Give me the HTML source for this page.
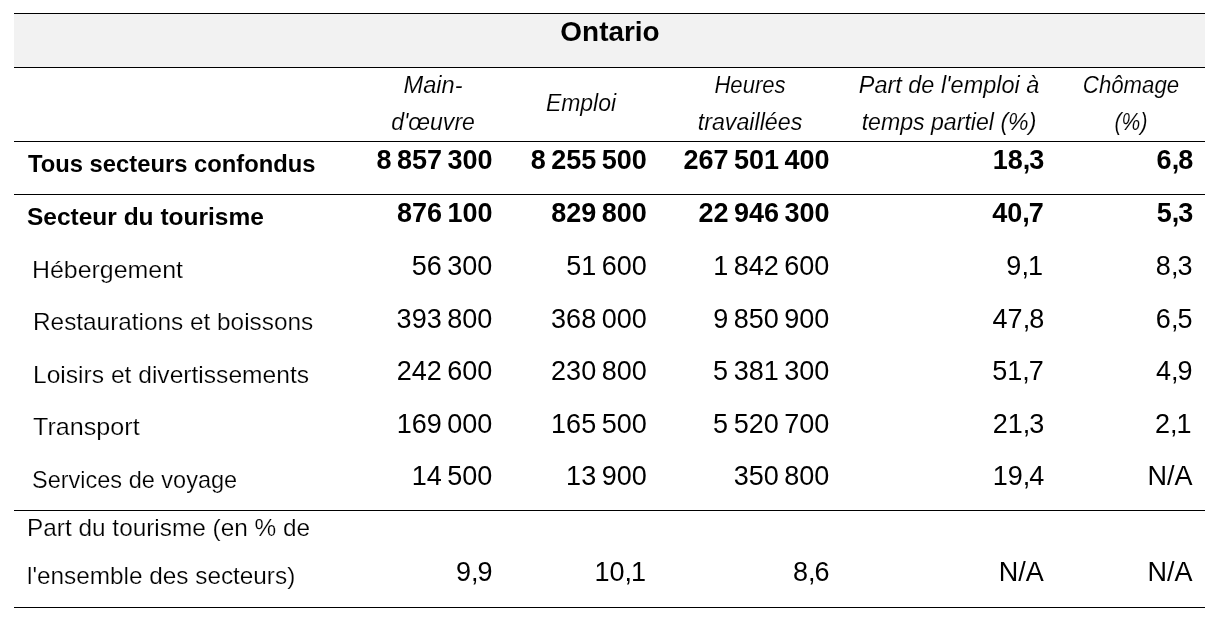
<!DOCTYPE html><html lang="fr"><head><meta charset="utf-8"><title>Ontario</title><style>
html,body{margin:0;padding:0;background:#fff;}
body{width:1217px;height:622px;position:relative;overflow:hidden;will-change:transform;font-family:"Liberation Sans",sans-serif;color:#000;}
.hd{position:absolute;left:14px;top:13px;width:1191px;height:55px;background:#f2f2f2;}
.ln{position:absolute;left:14px;width:1191px;height:1px;background:#000;}
.x{position:absolute;white-space:nowrap;line-height:40px;height:40px;font-size:24px;}
.l{transform-origin:0 50%;}
.rt{transform-origin:100% 50%;}
.l{-webkit-text-stroke:0.2px #fff;}
.i{-webkit-text-stroke:0.12px #fff;}
.b,.nb{font-weight:bold;-webkit-text-stroke:0;}
.n,.nb{font-size:27px;word-spacing:-2px;}
.c{letter-spacing:-1px;}
.i{font-style:italic;font-size:24.3px;}
.t{font-weight:bold;font-size:27.6px;}
</style></head><body>
<div class="hd"></div>
<div class="ln" style="top:13px"></div>
<div class="ln" style="top:67px"></div>
<div class="ln" style="top:141px"></div>
<div class="ln" style="top:194px"></div>
<div class="ln" style="top:510px"></div>
<div class="ln" style="top:607px"></div>
<div class="x t" style="top:12px;left:610.00px;transform:translateX(-50%) scaleX(1.0121)">Ontario</div>
<div class="x i" style="top:65px;left:432.62px;transform:translateX(-50%) scaleX(0.9722)">Main-</div>
<div class="x i" style="top:102px;left:432.84px;transform:translateX(-50%) scaleX(0.9478)">d'œuvre</div>
<div class="x i" style="top:83px;left:581.16px;transform:translateX(-50%) scaleX(0.9449)">Emploi</div>
<div class="x i" style="top:65px;left:750.04px;transform:translateX(-50%) scaleX(0.9085)">Heures</div>
<div class="x i" style="top:102px;left:749.92px;transform:translateX(-50%) scaleX(0.9558)">travaillées</div>
<div class="x i" style="top:65px;left:948.74px;transform:translateX(-50%) scaleX(0.9653)">Part de l'emploi à</div>
<div class="x i" style="top:102px;left:949.22px;transform:translateX(-50%) scaleX(0.9513)">temps partiel (%)</div>
<div class="x i" style="top:65px;left:1130.59px;transform:translateX(-50%) scaleX(0.9137)">Chômage</div>
<div class="x i" style="top:102px;left:1130.51px;transform:translateX(-50%) scaleX(0.8695)">(%)</div>
<div class="x b l" style="top:144px;left:27.61px;transform:scaleX(0.9902)">Tous secteurs confondus</div>
<div class="x nb" style="top:140px;right:724.44px">8 857 300</div>
<div class="x nb" style="top:140px;right:570.15px">8 255 500</div>
<div class="x nb" style="top:140px;right:387.46px">267 501 400</div>
<div class="x nb" style="top:140px;right:172.70px">18<span class="c">,</span>3</div>
<div class="x nb" style="top:140px;right:23.84px">6<span class="c">,</span>8</div>
<div class="x b l" style="top:197px;left:26.65px;transform:scaleX(1.0206)">Secteur du tourisme</div>
<div class="x nb" style="top:193px;right:724.47px">876 100</div>
<div class="x nb" style="top:193px;right:570.15px">829 800</div>
<div class="x nb" style="top:193px;right:387.47px">22 946 300</div>
<div class="x nb" style="top:193px;right:173.16px">40<span class="c">,</span>7</div>
<div class="x nb" style="top:193px;right:23.67px">5<span class="c">,</span>3</div>
<div class="x l" style="top:250px;left:32.27px;transform:scaleX(1.0377)">Hébergement</div>
<div class="x n" style="top:246px;right:724.71px">56 300</div>
<div class="x n" style="top:246px;right:570.27px">51 600</div>
<div class="x n" style="top:246px;right:387.73px">1 842 600</div>
<div class="x n" style="top:246px;right:174.09px">9<span class="c">,</span>1</div>
<div class="x n" style="top:246px;right:24.59px">8<span class="c">,</span>3</div>
<div class="x l" style="top:302px;left:32.65px;transform:scaleX(1.0146)">Restaurations et boissons</div>
<div class="x n" style="top:299px;right:724.79px">393 800</div>
<div class="x n" style="top:299px;right:570.31px">368 000</div>
<div class="x n" style="top:299px;right:387.71px">9 850 900</div>
<div class="x n" style="top:299px;right:172.84px">47<span class="c">,</span>8</div>
<div class="x n" style="top:299px;right:24.57px">6<span class="c">,</span>5</div>
<div class="x l" style="top:355px;left:32.65px;transform:scaleX(1.0246)">Loisirs et divertissements</div>
<div class="x n" style="top:351px;right:724.78px">242 600</div>
<div class="x n" style="top:351px;right:570.31px">230 800</div>
<div class="x n" style="top:351px;right:387.78px">5 381 300</div>
<div class="x n" style="top:351px;right:173.16px">51<span class="c">,</span>7</div>
<div class="x n" style="top:351px;right:24.47px">4<span class="c">,</span>9</div>
<div class="x l" style="top:407px;left:33.30px;transform:scaleX(1.0477)">Transport</div>
<div class="x n" style="top:404px;right:724.64px">169 000</div>
<div class="x n" style="top:404px;right:570.31px">165 500</div>
<div class="x n" style="top:404px;right:387.78px">5 520 700</div>
<div class="x n" style="top:404px;right:172.70px">21<span class="c">,</span>3</div>
<div class="x n" style="top:404px;right:25.37px">2<span class="c">,</span>1</div>
<div class="x l" style="top:460px;left:32.30px;transform:scaleX(0.9793)">Services de voyage</div>
<div class="x n" style="top:456px;right:724.71px">14 500</div>
<div class="x n" style="top:456px;right:570.30px">13 900</div>
<div class="x n" style="top:456px;right:387.71px">350 800</div>
<div class="x n" style="top:456px;right:172.74px">19<span class="c">,</span>4</div>
<div class="x n" style="top:456px;right:24.49px">N/A</div>
<div class="x l" style="top:508px;left:26.82px;transform:scaleX(1.0157)">Part du tourisme (en % de</div>
<div class="x l" style="top:556px;left:27.25px;transform:scaleX(1.0133)">l'ensemble des secteurs)</div>
<div class="x n" style="top:552px;right:724.39px">9<span class="c">,</span>9</div>
<div class="x n" style="top:552px;right:571.03px">10<span class="c">,</span>1</div>
<div class="x n" style="top:552px;right:387.45px">8<span class="c">,</span>6</div>
<div class="x n" style="top:552px;right:173.32px">N/A</div>
<div class="x n" style="top:552px;right:24.49px">N/A</div>
</body></html>
